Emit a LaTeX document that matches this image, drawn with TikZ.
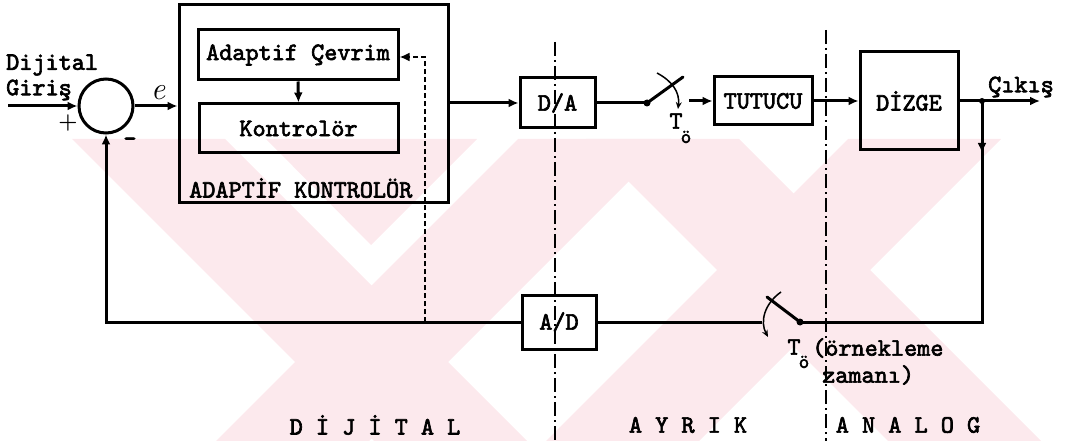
\documentclass[tikz,border=0pt]{standalone}
\usepackage{fontspec}
\setmonofont{lmmono10-regular.otf}[AutoFakeBold=2.6]
\usetikzlibrary{arrows.meta}
\definecolor{wm}{RGB}{252,233,237}
\begin{document}
\begin{tikzpicture}[x=1pt,y=-1pt,
  blk/.style={draw,line width=3pt,rectangle,inner sep=0pt},
  ln/.style={line width=3pt},
  arr/.style={line width=3pt,-{Latex[length=10pt,width=9pt]}},
  lbl/.style={font=\fontsize{25}{27}\selectfont\ttfamily\bfseries,inner sep=0pt},
  sub/.style={font=\fontsize{20}{20}\selectfont\ttfamily\bfseries,inner sep=0pt},
  divline/.style={line width=1.6pt,dash pattern=on 14pt off 4pt on 2pt off 4pt},
  fbline/.style={line width=2.2pt,dash pattern=on 5pt off 3pt},
  curv/.style={line width=1.5pt,-{Stealth[length=7pt,width=6pt]}},
  band/.style={fill=wm,draw=none}]
\useasboundingbox (0,0) rectangle (1068,441);
% watermark
\begin{scope}
\clip (60,139) rectangle (1045,441);
\fill[band] (72,139) -- (225,139) -- (527,441) -- (374,441) -- cycle;
\fill[band] (518,139) -- (671,139) -- (369,441) -- (216,441) -- cycle;
\fill[band] (266,139) -- (477,139) -- (371,245) -- cycle;
\fill[band] (586,139) -- (739,139) -- (1041,441) -- (888,441) -- cycle;
\fill[band] (848,139) -- (1001,139) -- (699,441) -- (546,441) -- cycle;
\end{scope}
% blocks
\node[blk,minimum width=269pt,minimum height=197pt] (outer) at (313.5,103.5) {};
\node[blk,lbl,minimum width=200pt,minimum height=50pt] (adapt) at (298,55) {Adaptif Çevrim};
\node[blk,lbl,minimum width=199pt,minimum height=49pt] (kont) at (298.5,128.5) {Kontrolör};
\node[lbl,anchor=west] (adk) at (189,188) {ADAPTİF KONTROLÖR};
\node[draw,circle,line width=3pt,minimum size=54pt,inner sep=0pt] (sum) at (106,106) {};
\node[blk,lbl,minimum width=75pt,minimum height=50pt] (da) at (557.5,103) {D/A};
\node[blk,lbl,minimum width=98pt,minimum height=48pt] (tut) at (763,101) {TUTUCU};
\node[blk,lbl,minimum width=98pt,minimum height=98pt] (dizge) at (909,101) {DİZGE};
\node[blk,lbl,minimum width=74pt,minimum height=54pt] (ad) at (559,322) {A/D};
% labels
\node[lbl,anchor=west] (dij) at (6,65) {Dijital};
\node[lbl,anchor=west] (gir) at (6,90) {Giriş};
\node[font=\fontsize{22}{22}\selectfont\bfseries,inner sep=0pt] (plus) at (68,123) {+};
\node[lbl] (minus) at (130,142) {-};
\node[font=\fontsize{32}{32}\selectfont\itshape,inner sep=0pt] (e) at (158,93) {e};
\node[lbl,anchor=west] (cik) at (988,87) {Çıkış};
\node[lbl] (t1) at (676,121) {T};
\node[sub] (t1s) at (686,137) {ö};
\node[lbl] (t2) at (794,347) {T};
\node[sub] (t2s) at (804,362) {ö};
\node[lbl,anchor=west] (orn) at (812,348) {(örnekleme};
\node[lbl,anchor=west] (zam) at (822,375) {zamanı)};
\node[lbl] (dig) at (375,425) {D İ J İ T A L};
\node[lbl] (ayr) at (688,425) {A Y R I K};
\node[lbl] (ana) at (908,425) {A N A L O G};
% coordinates
\coordinate (in) at (8,106);
\coordinate (s1) at (647,103);
\coordinate (s1t) at (683,77);
\coordinate (s1o) at (689,101);
\coordinate (br) at (982,101);
\coordinate (out) at (1040,101);
\coordinate (brd) at (982,153);
\coordinate (bl) at (982,322);
\coordinate (s2) at (800,322);
\coordinate (s2t) at (767,297);
\coordinate (s2o) at (762,322);
\coordinate (fbb) at (425,322);
\coordinate (fbt) at (425,57);
% connectors
\draw[arr] (in) -- (sum.west);
\draw[arr] (sum.east) -- (sum.east -| outer.west);
\draw[arr] (adapt.south) -- (kont.north);
\draw[arr] (outer.east |- da.west) -- (da.west);
\draw[ln] (da.east) -- (s1);
\fill (s1) circle (3.5pt);
\draw[ln,line cap=round] (s1) -- (s1t);
\draw[curv] (657,73) .. controls (672,81) and (680,92) .. (678,109);
\draw[arr] (s1o) -- (tut.west);
\draw[arr] (tut.east) -- (tut.east -| dizge.west);
\draw[arr] (dizge.east |- br) -- (out);
\fill (br) circle (3pt);
\draw[ln] (br) -- (bl) -- (s2);
\draw[arr] (br) -- (brd);
\fill (s2) circle (3.5pt);
\draw[ln,line cap=round] (s2) -- (s2t);
\draw[curv] (781,292) .. controls (764,304) and (760,322) .. (768,337);
\draw[ln] (s2o) -- (s2o -| ad.east);
\draw[arr] (ad.west) -| (sum.south);
\draw[fbline,-{Latex[length=10pt,width=9pt]}] (fbb) -- (fbt) -- (fbt -| adapt.east);
% dividers
\draw[divline] (555,42) -- (555,441);
\draw[divline] (826,30) -- (826,441);
\end{tikzpicture}
\end{document}
